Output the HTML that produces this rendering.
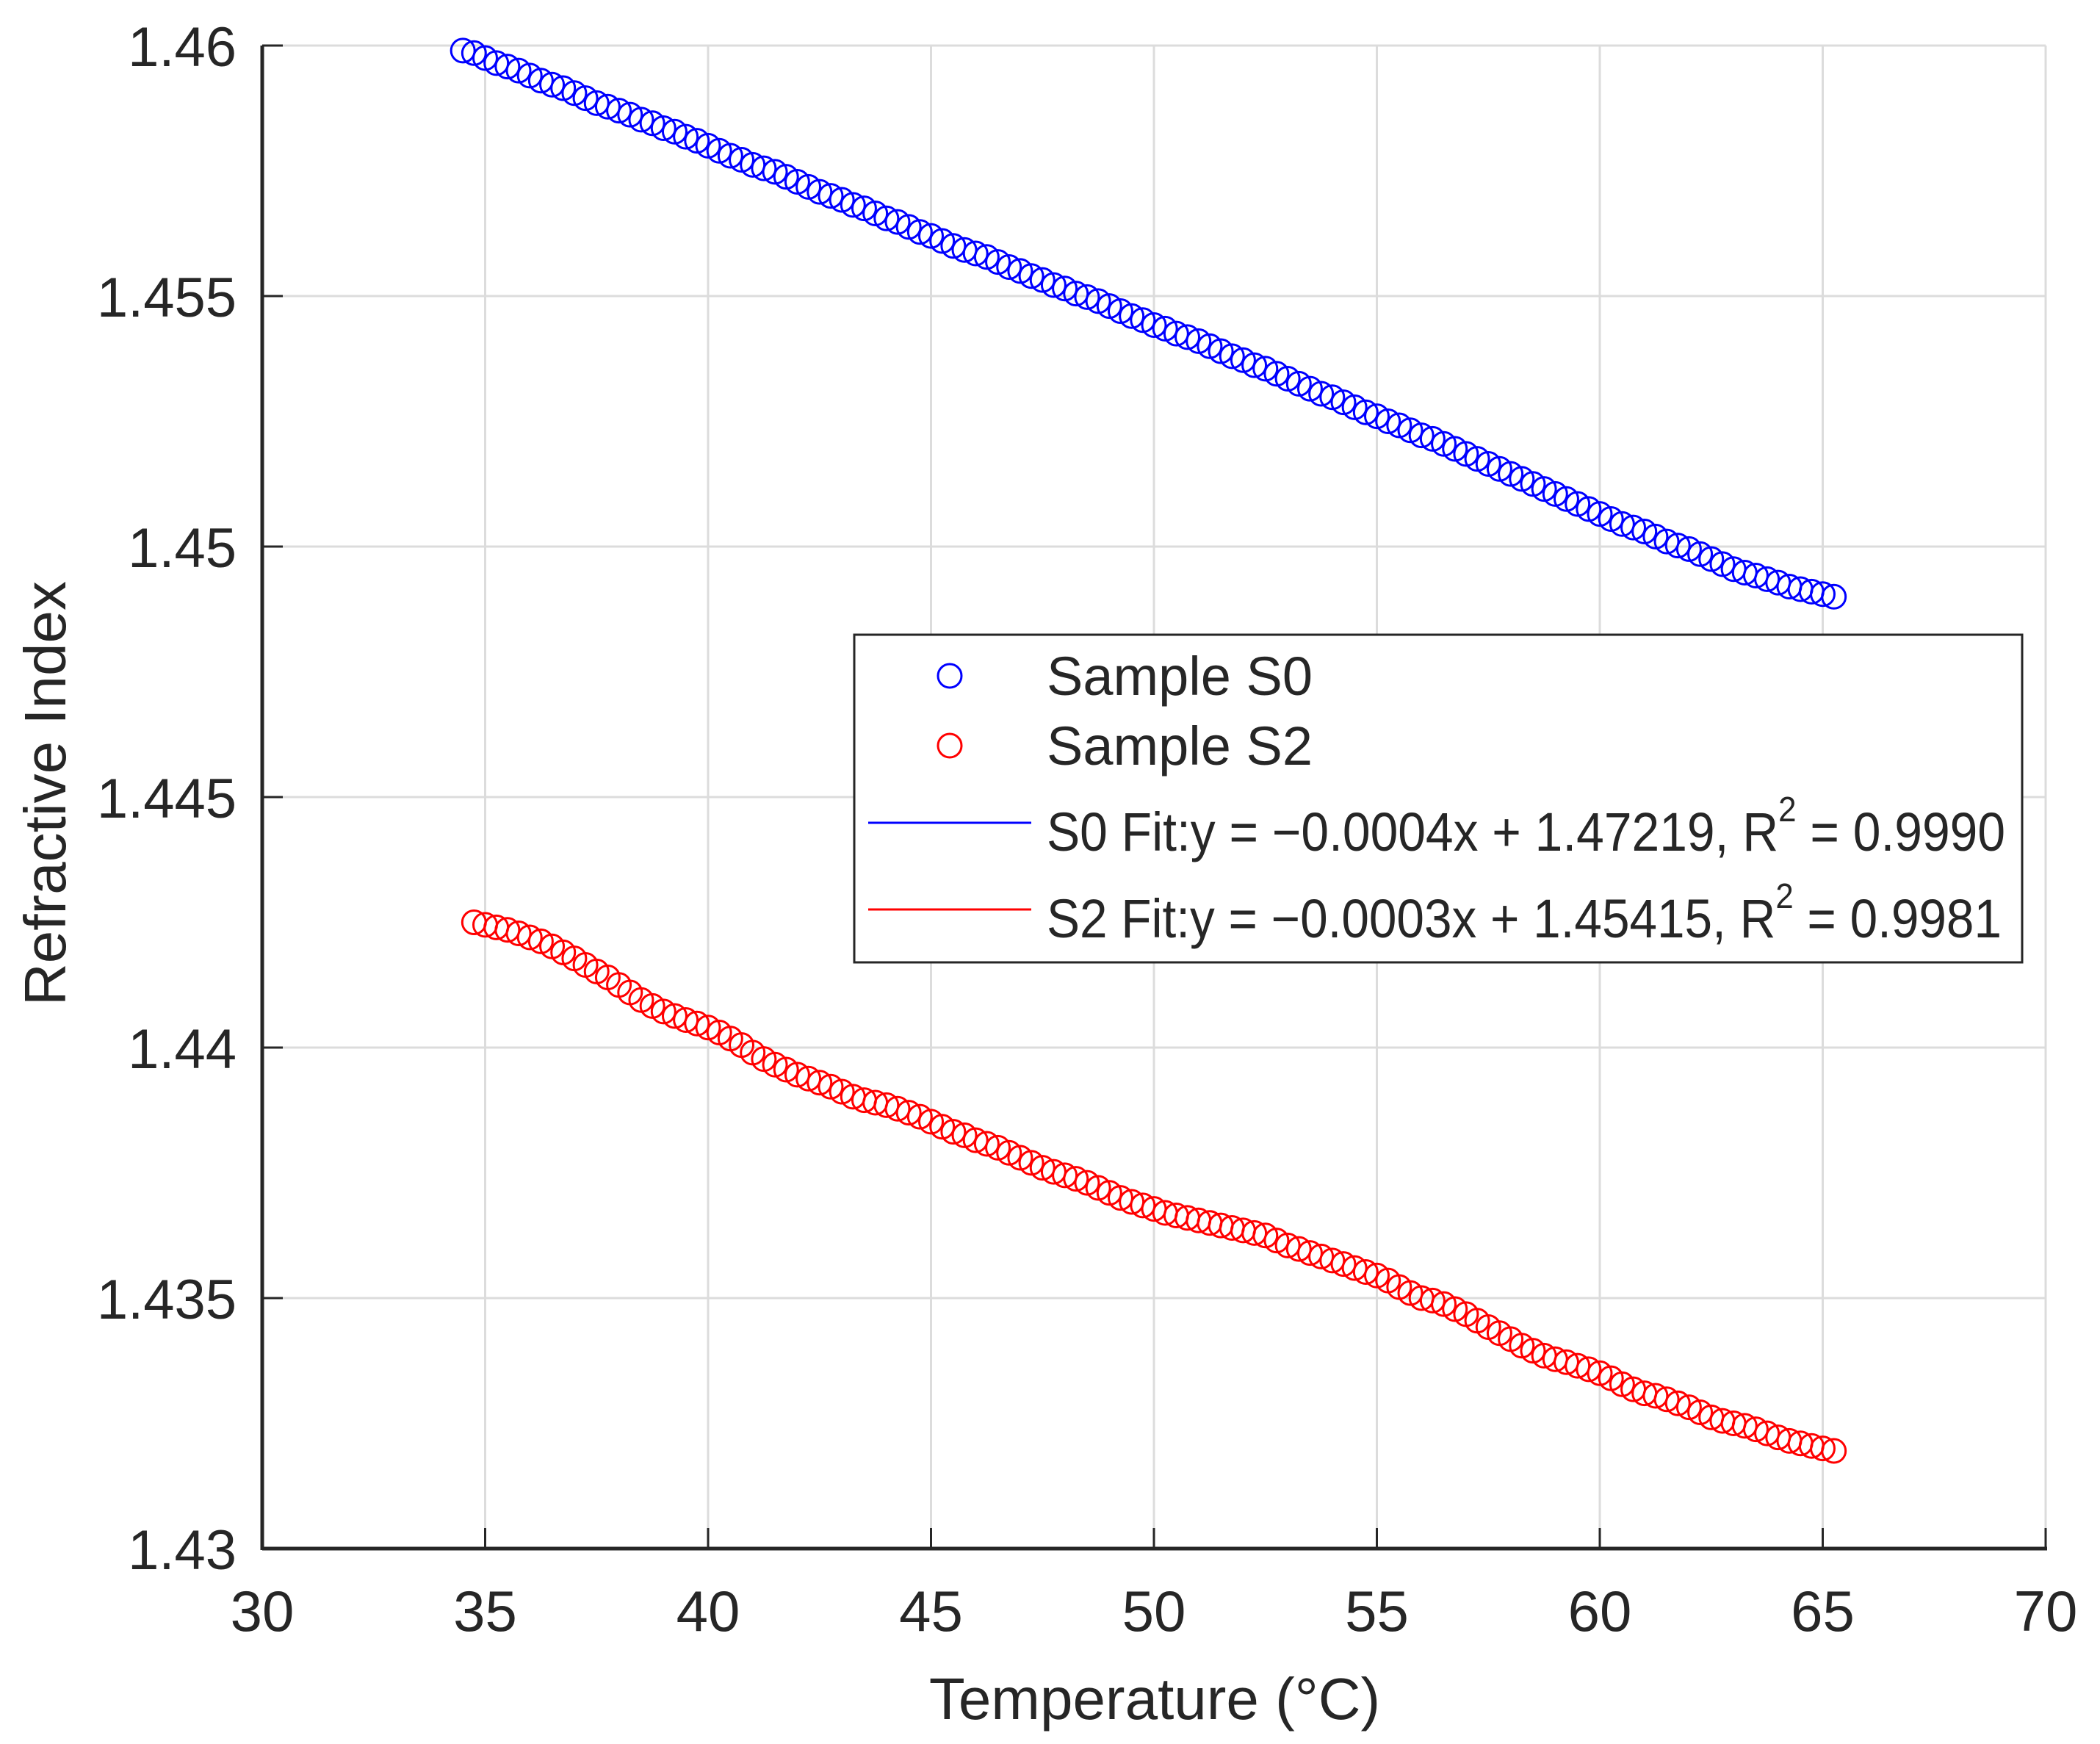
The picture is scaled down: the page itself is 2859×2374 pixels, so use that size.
<!DOCTYPE html>
<html><head><meta charset="utf-8"><style>
html,body{margin:0;padding:0;background:#fff;}
svg{display:block;}
text{font-family:"Liberation Sans",sans-serif;fill:#262626;}
</style></head><body>
<svg id="chart" width="2859" height="2374" viewBox="0 0 2859 2374" xmlns="http://www.w3.org/2000/svg">
<g id="grid"></g>
<g id="axes"></g>
<g id="s0"></g>
<g id="s2"></g>
<text x="1572" y="2340" font-size="80" text-anchor="middle">Temperature (°C)</text>
<text transform="translate(89,1080) rotate(-90)" font-size="80" text-anchor="middle">Refractive Index</text>
<g>
<rect x="1163" y="864" width="1590" height="446" fill="#fff" stroke="#262626" stroke-width="3"/>
<g><circle cx="1293" cy="920" r="16" fill="none" stroke="#0000ff" stroke-width="3"/><text x="1425" y="946" font-size="74">Sample S0</text></g>
<g><circle cx="1293" cy="1015" r="16" fill="none" stroke="#ff0000" stroke-width="3"/><text x="1425" y="1041" font-size="74">Sample S2</text></g>
<g><line x1="1182" y1="1120" x2="1404" y2="1120" stroke="#0000ff" stroke-width="3"/><text x="1425" y="1158" font-size="74" textLength="1305" lengthAdjust="spacingAndGlyphs">S0 Fit:y = −0.0004x + 1.47219, R<tspan font-size="48" dy="-40">2</tspan><tspan dy="40"> = 0.9990</tspan></text></g>
<g><line x1="1182" y1="1238" x2="1404" y2="1238" stroke="#ff0000" stroke-width="3"/><text x="1425" y="1276" font-size="74" textLength="1300" lengthAdjust="spacingAndGlyphs">S2 Fit:y = −0.0003x + 1.45415, R<tspan font-size="48" dy="-40">2</tspan><tspan dy="40"> = 0.9981</tspan></text></g>
</g>
</svg>
<script>
const xTicks=[30,35,40,45,50,55,60,65,70];
const yTicks=[1.43,1.435,1.44,1.445,1.45,1.455,1.46];
const yTickLabels=["1.43","1.435","1.44","1.445","1.45","1.455","1.46"];
const temps0=[34.5,34.75,35,35.25,35.5,35.75,36,36.25,36.5,36.75,37,37.25,37.5,37.75,38,38.25,38.5,38.75,39,39.25,39.5,39.75,40,40.25,40.5,40.75,41,41.25,41.5,41.75,42,42.25,42.5,42.75,43,43.25,43.5,43.75,44,44.25,44.5,44.75,45,45.25,45.5,45.75,46,46.25,46.5,46.75,47,47.25,47.5,47.75,48,48.25,48.5,48.75,49,49.25,49.5,49.75,50,50.25,50.5,50.75,51,51.25,51.5,51.75,52,52.25,52.5,52.75,53,53.25,53.5,53.75,54,54.25,54.5,54.75,55,55.25,55.5,55.75,56,56.25,56.5,56.75,57,57.25,57.5,57.75,58,58.25,58.5,58.75,59,59.25,59.5,59.75,60,60.25,60.5,60.75,61,61.25,61.5,61.75,62,62.25,62.5,62.75,63,63.25,63.5,63.75,64,64.25,64.5,64.75,65,65.25];
const ri0=[1.45990,1.45985,1.45975,1.45965,1.45958,1.45950,1.45940,1.45930,1.45922,1.45915,1.45905,1.45895,1.45885,1.45878,1.45870,1.45862,1.45852,1.45845,1.45835,1.45828,1.45818,1.45810,1.45800,1.45790,1.45780,1.45772,1.45762,1.45755,1.45748,1.45738,1.45728,1.45718,1.45708,1.45700,1.45692,1.45682,1.45675,1.45665,1.45655,1.45648,1.45638,1.45628,1.45620,1.45610,1.45600,1.45592,1.45585,1.45578,1.45568,1.45558,1.45550,1.45540,1.45532,1.45522,1.45515,1.45505,1.45498,1.45490,1.45480,1.45470,1.45460,1.45452,1.45442,1.45435,1.45425,1.45418,1.45410,1.45400,1.45390,1.45380,1.45372,1.45362,1.45355,1.45345,1.45335,1.45325,1.45315,1.45305,1.45298,1.45288,1.45278,1.45268,1.45260,1.45250,1.45242,1.45232,1.45222,1.45215,1.45205,1.45195,1.45185,1.45175,1.45165,1.45155,1.45145,1.45135,1.45125,1.45115,1.45105,1.45095,1.45085,1.45075,1.45065,1.45055,1.45045,1.45038,1.45030,1.45020,1.45010,1.45002,1.44995,1.44985,1.44975,1.44965,1.44955,1.44948,1.44942,1.44935,1.44928,1.44920,1.44915,1.44910,1.44905,1.44900];
const temps2=[34.75,35,35.25,35.5,35.75,36,36.25,36.5,36.75,37,37.25,37.5,37.75,38,38.25,38.5,38.75,39,39.25,39.5,39.75,40,40.25,40.5,40.75,41,41.25,41.5,41.75,42,42.25,42.5,42.75,43,43.25,43.5,43.75,44,44.25,44.5,44.75,45,45.25,45.5,45.75,46,46.25,46.5,46.75,47,47.25,47.5,47.75,48,48.25,48.5,48.75,49,49.25,49.5,49.75,50,50.25,50.5,50.75,51,51.25,51.5,51.75,52,52.25,52.5,52.75,53,53.25,53.5,53.75,54,54.25,54.5,54.75,55,55.25,55.5,55.75,56,56.25,56.5,56.75,57,57.25,57.5,57.75,58,58.25,58.5,58.75,59,59.25,59.5,59.75,60,60.25,60.5,60.75,61,61.25,61.5,61.75,62,62.25,62.5,62.75,63,63.25,63.5,63.75,64,64.25,64.5,64.75,65,65.25];
const ri2=[1.44250,1.44245,1.44240,1.44235,1.44228,1.44220,1.44212,1.44202,1.44190,1.44178,1.44165,1.44152,1.44140,1.44125,1.44110,1.44095,1.44083,1.44072,1.44063,1.44055,1.44048,1.44040,1.44030,1.44018,1.44005,1.43990,1.43977,1.43966,1.43956,1.43946,1.43938,1.43930,1.43922,1.43912,1.43902,1.43895,1.43890,1.43885,1.43878,1.43870,1.43862,1.43852,1.43842,1.43832,1.43825,1.43815,1.43808,1.43800,1.43790,1.43780,1.43770,1.43760,1.43752,1.43745,1.43738,1.43730,1.43720,1.43710,1.43700,1.43692,1.43685,1.43678,1.43670,1.43665,1.43660,1.43655,1.43650,1.43645,1.43640,1.43635,1.43630,1.43625,1.43615,1.43605,1.43598,1.43590,1.43583,1.43575,1.43568,1.43560,1.43552,1.43545,1.43535,1.43522,1.43510,1.43500,1.43495,1.43488,1.43478,1.43468,1.43455,1.43442,1.43430,1.43418,1.43405,1.43395,1.43385,1.43378,1.43372,1.43365,1.43358,1.43350,1.43340,1.43328,1.43318,1.43310,1.43305,1.43298,1.43290,1.43282,1.43272,1.43262,1.43255,1.43250,1.43245,1.43238,1.43230,1.43222,1.43215,1.43210,1.43205,1.43200,1.43195];

const NS="http://www.w3.org/2000/svg";
const L=357,R=2785,T=62,B=2108;
const xMin=30,xMax=70,yMin=1.43,yMax=1.46;
function sx(v){return L+(v-xMin)/(xMax-xMin)*(R-L);}
function sy(v){return B-(v-yMin)/(yMax-yMin)*(B-T);}
function mk(tag,attrs,parent){const e=document.createElementNS(NS,tag);for(const k in attrs)e.setAttribute(k,attrs[k]);parent.appendChild(e);return e;}
const grid=document.getElementById('grid'),axes=document.getElementById('axes');
xTicks.forEach(t=>{
  const g=mk('line',{x1:sx(t),x2:sx(t),y1:T,y2:B,stroke:'#dcdcdc','stroke-width':3},grid);
  
  
  const tk=mk('line',{x1:sx(t),x2:sx(t),y1:B,y2:B-28,stroke:'#262626','stroke-width':3},axes);
  
  
  const tx=mk('text',{x:sx(t),y:2220,'font-size':78,'text-anchor':'middle'},axes);
  tx.textContent=String(t);
  
  
});
yTicks.forEach((t,i)=>{
  const g=mk('line',{x1:L,x2:R,y1:sy(t),y2:sy(t),stroke:'#dcdcdc','stroke-width':3},grid);
  
  
  const tk=mk('line',{x1:L,x2:L+28,y1:sy(t),y2:sy(t),stroke:'#262626','stroke-width':3},axes);
  
  
  const tx=mk('text',{x:322,y:sy(t)+28,'font-size':76,'text-anchor':'end'},axes);
  tx.textContent=yTickLabels[i];
  
  
});
const xa=mk('line',{x1:L,x2:R+2,y1:B,y2:B,stroke:'#262626','stroke-width':5},axes);


const ya=mk('line',{x1:L,x2:L,y1:T,y2:B+2,stroke:'#262626','stroke-width':5},axes);


function series(id,xs,ys,color,name){
  const g=document.getElementById(id);
  xs.forEach((x,i)=>{
    const c=mk('circle',{cx:sx(x),cy:sy(ys[i]),r:16,fill:'none',stroke:color,'stroke-width':3},g);
    
    
  });
}
series('s0',temps0,ri0,'#0000ff','s0-point');
series('s2',temps2,ri2,'#ff0000','s2-point');
</script>
</body></html>
